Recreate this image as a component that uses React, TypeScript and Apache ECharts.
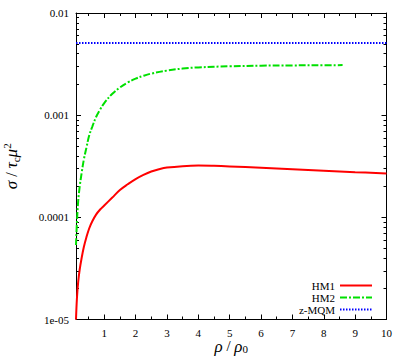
import React, { useEffect, useRef } from "react";
import * as echarts from "echarts";

const hm1X = [0.1, 0.13, 0.17, 0.22, 0.28, 0.35, 0.43, 0.52, 0.62, 0.74, 0.87, 1.0, 1.25, 1.5, 1.75, 2.0, 2.25, 2.5, 2.75, 3.0, 3.5, 4.0, 4.5, 5, 6, 7, 8, 9, 10];
const hm1Y = [1.0e-5, 1.62e-5, 2.33e-5, 3.12e-5, 4.0e-5, 5.12e-5, 6.35e-5, 7.78e-5, 9.15e-5, 1.064e-4, 1.193e-4, 1.306e-4, 1.553e-4, 1.848e-4, 2.106e-4, 2.367e-4, 2.602e-4, 2.81e-4, 2.96e-4, 3.07e-4, 3.17e-4, 3.21e-4, 3.19e-4, 3.15e-4, 3.05e-4, 2.95e-4, 2.86e-4, 2.77e-4, 2.69e-4];

const hm2X = [0.1, 0.13, 0.17, 0.22, 0.28, 0.35, 0.43, 0.52, 0.62, 0.74, 0.87, 1.0, 1.25, 1.5, 1.75, 2.0, 2.25, 2.5, 3.0, 3.5, 4.0, 5, 6, 7, 8, 8.6];
const hm2Y = [5.36e-5, 9.0e-5, 1.445e-4, 2.026e-4, 2.716e-4, 3.68e-4, 4.77e-4, 6.32e-4, 7.74e-4, 9.59e-4, 1.136e-3, 1.315e-3, 1.611e-3, 1.865e-3, 2.088e-3, 2.279e-3, 2.428e-3, 2.552e-3, 2.731e-3, 2.857e-3, 2.935e-3, 3.008e-3, 3.05e-3, 3.069e-3, 3.083e-3, 3.09e-3];

const zmqmX = [0.1, 10];
const zmqmY = [5.1e-3, 5.1e-3];

const xMajor = [1, 2, 3, 4, 5, 6, 7, 8, 9, 10];
const xMinor = [0.5, 1.5, 2.5, 3.5, 4.5, 5.5, 6.5, 7.5, 8.5, 9.5];
const yMajor = [1e-5, 1e-4, 1e-3, 1e-2];
const yLabels = ["1e-05", "0.0001", "0.001", "0.01"];
const yMinor: number[] = [];
[1e-5, 1e-4, 1e-3].forEach((d) => {
  for (let k = 2; k <= 9; k++) yMinor.push(k * d);
});

const FONT = "Liberation Serif";

export default function App() {
  const ref = useRef<HTMLDivElement>(null);
  useEffect(() => {
    if (!ref.current) return;
    document.body.style.margin = "0";
    const chart = echarts.init(ref.current, undefined, { renderer: "svg" });
    const lineCol = "#000";
    const xBase = (position: string, major: boolean, main: boolean) => ({
      type: "value",
      min: 0.1,
      max: 10,
      position,
      axisLine: { show: main, lineStyle: { color: lineCol, width: 1 } },
      axisTick: {
        show: true,
        inside: true,
        length: major ? 5 : 3,
        customValues: major ? xMajor : xMinor,
        lineStyle: { color: lineCol },
      },
      axisLabel: {
        show: main && position === "bottom",
        customValues: xMajor,
        color: "#000",
        fontFamily: FONT,
        fontSize: 11,
        margin: 8,
      },
      splitLine: { show: false },
    });
    const yBase = (position: string, major: boolean, main: boolean) => ({
      type: "log",
      logBase: 10,
      min: 1e-5,
      max: 1e-2,
      position,
      axisLine: { show: main, lineStyle: { color: lineCol, width: 1 } },
      axisTick: {
        show: true,
        inside: true,
        length: major ? 5 : 3,
        customValues: major ? yMajor : yMinor,
        lineStyle: { color: lineCol },
      },
      axisLabel: {
        show: main && position === "left",
        customValues: yMajor,
        color: "#000",
        fontFamily: FONT,
        fontSize: 11,
        margin: 7,
        formatter: (v: number) => {
          let best = 0;
          let bd = Infinity;
          yMajor.forEach((m, i) => {
            const d = Math.abs(Math.log10(v) - Math.log10(m));
            if (d < bd) { bd = d; best = i; }
          });
          return yLabels[best];
        },
      },
      splitLine: { show: false },
    });

    const xMain: any = xBase("bottom", true, true);
    xMain.name = "{i|ρ} / {i|ρ}{sub|0}";
    xMain.nameLocation = "middle";
    xMain.nameGap = 18;
    xMain.nameMoveOverlap = false;
    xMain.nameTextStyle = {
      fontFamily: FONT,
      fontSize: 15,
      color: "#000",
      verticalAlign: "top",
      rich: {
        i: { fontFamily: FONT, fontStyle: "italic", fontSize: 17, color: "#000" },
        sub: { fontFamily: FONT, fontSize: 11, color: "#000", padding: [5, 0, 0, 0] },
      },
    };
    const yMain: any = yBase("left", true, true);
    yMain.name = "{i|σ} / {i|τ}{sub|c}{i|μ}{sup|2}";
    yMain.nameLocation = "middle";
    yMain.nameGap = 54;
    yMain.nameMoveOverlap = false;
    yMain.nameTextStyle = {
      fontFamily: FONT,
      fontSize: 16,
      color: "#000",
      rich: {
        i: { fontFamily: FONT, fontStyle: "italic", fontSize: 17, color: "#000" },
        sub: { fontFamily: FONT, fontSize: 11, color: "#000", padding: [8, 0, 0, 0] },
        sup: { fontFamily: FONT, fontSize: 11, color: "#000", padding: [0, 0, 10, 0] },
      },
    };

    chart.setOption({
      animation: false,
      backgroundColor: "#fff",
      textStyle: { fontFamily: FONT },
      grid: { left: 76, right: 20.5, top: 13, bottom: 36.5, containLabel: false, outerBoundsMode: "none" },
      legend: {
        orient: "vertical",
        right: 34,
        top: 280,
        padding: 0,
        align: "right",
        itemWidth: 32,
        itemHeight: 11,
        itemGap: 1,
        itemStyle: { opacity: 0 },
        textStyle: { fontFamily: FONT, fontSize: 11, color: "#000", lineHeight: 11 },
        data: ["HM1", "HM2", "z-MQM"],
      },
      xAxis: [xMain, xBase("bottom", false, false), xBase("top", true, true), xBase("top", false, false)],
      yAxis: [yMain, yBase("left", false, false), yBase("right", true, true), yBase("right", false, false)],
      series: [
        {
          name: "HM1",
          type: "line",
          symbol: "none",
          smooth: 0.4,
          clip: true,
          data: hm1X.map((x, i) => [x, hm1Y[i]]),
          lineStyle: { color: "#ff0000", width: 2 },
          itemStyle: { color: "#ff0000" },
        },
        {
          name: "HM2",
          type: "line",
          symbol: "none",
          smooth: 0.4,
          clip: true,
          data: hm2X.map((x, i) => [x, hm2Y[i]]),
          lineStyle: { color: "#00e000", width: 2, type: [7, 2, 2, 2] },
          itemStyle: { color: "#00e000" },
        },
        {
          name: "z-MQM",
          type: "line",
          symbol: "none",
          clip: true,
          data: zmqmX.map((x, i) => [x, zmqmY[i]]),
          lineStyle: { color: "#0000ff", width: 2, type: [1.5, 1.5] },
          itemStyle: { color: "#0000ff" },
        },
      ],
    });
    return () => chart.dispose();
  }, []);
  return <div ref={ref} style={{ width: 407, height: 356 }} />;
}
